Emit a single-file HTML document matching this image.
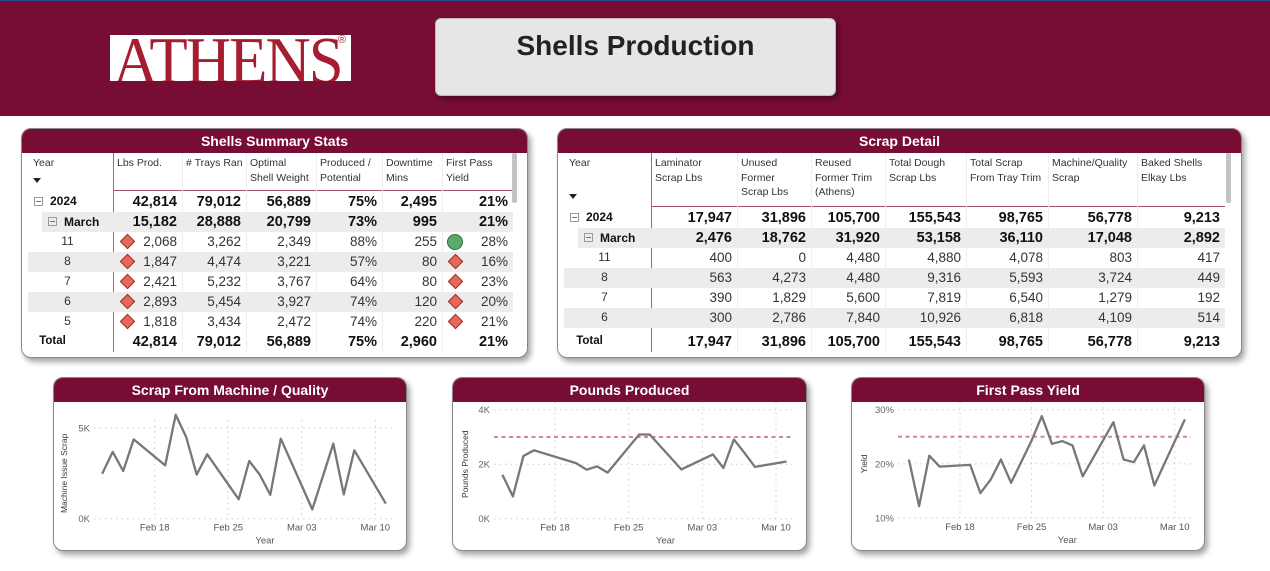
<!DOCTYPE html>
<html><head><meta charset="utf-8">
<style>
*{box-sizing:border-box;margin:0;padding:0}
body{width:1270px;height:571px;background:#fff;position:relative;overflow:hidden;font-family:"Liberation Sans",sans-serif;color:#222}
.abs{position:absolute}
.card{position:absolute;background:#fff;border:1px solid #888;border-radius:10px;box-shadow:3px 4px 6px rgba(0,0,0,.35);overflow:hidden}
.bar{position:absolute;left:0;right:0;top:0;height:24px;background:#770c35;color:#fff;font-weight:bold;font-size:14px;text-align:center;line-height:24px}
.cell{position:absolute;font-size:13.5px;text-align:right;white-space:nowrap;color:#333;line-height:20px}
.hd{position:absolute;font-size:10.5px;color:#333;line-height:14.5px}
.b{font-weight:bold;color:#111;font-size:14.5px}
.dia{position:absolute;width:11px;height:11px;background:#e8675b;border:1px solid #a52a22;transform:rotate(45deg)}
.circ{position:absolute;width:16px;height:16px;border-radius:50%;background:#5ca96d;border:1px solid #2f6e3c}
</style></head>
<body>
<div class="abs" style="left:0;top:0;width:1270px;height:116px;background:#770c35;border-top:1px solid #2a4f9a"></div>
<div class="abs" style="left:110px;top:35px;width:241px;height:46px;background:#fff;overflow:hidden">
<div style="position:absolute;left:3px;top:-13px;font-family:'Liberation Serif',serif;font-size:64px;color:#a51d2f;letter-spacing:-2px;transform:scale(0.98,1.05);transform-origin:left top">ATHENS</div>
<div style="position:absolute;left:228px;top:-1px;font-size:11px;color:#a51d2f">®</div>
</div>
<div class="abs" style="left:435px;top:18px;width:401px;height:78px;background:#e6e6e6;border:1px solid #bbb;border-radius:6px;box-shadow:3px 3px 5px rgba(0,0,0,.35)">
<div style="position:absolute;left:0;right:0;top:11px;text-align:center;font-weight:bold;font-size:28px;color:#222">Shells Production</div>
</div>

<div class="card" id="t1" style="left:21px;top:128px;width:507px;height:230px"><div class="bar">Shells Summary Stats</div></div>
<div class="card" id="t2" style="left:557px;top:128px;width:685px;height:230px"><div class="bar">Scrap Detail</div></div>

<div class="card" id="c1" style="left:53px;top:377px;width:354px;height:174px"><div class="bar">Scrap From Machine / Quality</div></div>
<div class="card" id="c2" style="left:452px;top:377px;width:355px;height:174px"><div class="bar">Pounds Produced</div></div>
<div class="card" id="c3" style="left:851px;top:377px;width:354px;height:174px"><div class="bar">First Pass Yield</div></div>

<script>
// ---------- table data ----------
const t1Headers=[["Year"],["Lbs Prod."],["# Trays Ran"],["Optimal","Shell Weight"],["Produced /","Potential"],["Downtime","Mins"],["First Pass","Yield"]];
const t1Rows=[
["2024","42,814","79,012","56,889","75%","2,495","21%"],
["March","15,182","28,888","20,799","73%","995","21%"],
["11","2,068","3,262","2,349","88%","255","28%"],
["8","1,847","4,474","3,221","57%","80","16%"],
["7","2,421","5,232","3,767","64%","80","23%"],
["6","2,893","5,454","3,927","74%","120","20%"],
["5","1,818","3,434","2,472","74%","220","21%"],
["Total","42,814","79,012","56,889","75%","2,960","21%"]];
const t1Lbs=["bad","bad","bad","bad","bad"];
const t1Fpy=["good","bad","bad","bad","bad"];
const t2Headers=[["Year"],["Laminator","Scrap Lbs"],["Unused","Former","Scrap Lbs"],["Reused","Former Trim","(Athens)"],["Total Dough","Scrap Lbs"],["Total Scrap","From Tray Trim"],["Machine/Quality","Scrap"],["Baked Shells","Elkay Lbs"]];
const t2Rows=[
["2024","17,947","31,896","105,700","155,543","98,765","56,778","9,213"],
["March","2,476","18,762","31,920","53,158","36,110","17,048","2,892"],
["11","400","0","4,480","4,880","4,078","803","417"],
["8","563","4,273","4,480","9,316","5,593","3,724","449"],
["7","390","1,829","5,600","7,819","6,540","1,279","192"],
["6","300","2,786","7,840","10,926","6,818","4,109","514"],
["Total","17,947","31,896","105,700","155,543","98,765","56,778","9,213"]];

function mk(parent,cls,style,text){const d=document.createElement('div');d.className=cls;d.style.cssText=style;if(text!=null)d.textContent=text;parent.appendChild(d);return d;}

function buildTable(id,edges,headers,rows,lineY,rowTops,hdTop,iconFn){
  const card=document.getElementById(id);
  const L=edges[0];
  headers.forEach((h,i)=>{
    const d=mk(card,'hd',`left:${edges[i]-L+(i==0?11:4)}px;top:${hdTop}px;`);
    d.innerHTML=h.join('<br>');
    
    
  });
  const arrow=mk(card,'abs',`left:11px;top:${lineY-12}px;width:0;height:0;border-left:4px solid transparent;border-right:4px solid transparent;border-top:5px solid #222`);
  
  
  const line=mk(card,'abs',`left:${edges[1]-L}px;top:${lineY}px;width:${edges[edges.length-1]-edges[1]}px;height:1px;background:#a0506e`);
  
  
  const vline=mk(card,'abs',`left:${edges[1]-L}px;top:24px;width:1px;height:${rowTops[rowTops.length-1]+20-24}px;background:#b06080`);
  
  
  for(let i=2;i<edges.length-1;i++){
    const v=mk(card,'abs',`left:${edges[i]-L}px;top:24px;width:1px;height:${rowTops[rowTops.length-1]+20-24}px;background:#eee`);
    
    
  }
  rows.forEach((r,ri)=>{
    const top=rowTops[ri];
    const bold=(ri<2||ri==rows.length-1);
    if(ri%2==1 && ri<rows.length-1){
      const bg=mk(card,'abs',`left:${ri==1?20:6}px;top:${top}px;width:${edges[edges.length-1]-L-(ri==1?20:6)}px;height:20px;background:#ececec`);
      
      
    }
    r.forEach((v,ci)=>{
      let st,cls='cell'+(bold?' b':'');
      if(ci==0){
        if(ri==0) st=`left:11px;top:${top-1}px;text-align:left;font-size:12px`;
        else if(ri==1) st=`left:22px;top:${top}px;text-align:left;font-size:12px`;
        else if(ri==rows.length-1) st=`left:0;width:${edges[1]-L-30}px;top:${top-1}px;text-align:center;font-size:11.5px`;
        else st=`left:0;width:${edges[1]-L}px;top:${top-1}px;text-align:center;font-size:12px`;
      } else st=`left:${edges[ci]-L}px;width:${edges[ci+1]-edges[ci]-5}px;top:${top}px`;
      const d=mk(card,cls,st,v);
      
      
      if(ci==0&&ri<2){
        const box=mk(card,'abs',`left:${ri==0?12:26}px;top:${top+5}px;width:9px;height:9px;border:1px solid #999`);
        
        
        mk(box,'abs','left:1px;top:3px;width:5px;height:1px;background:#777');
        d.style.left=(ri==0?28:42)+'px';
      }
    });
    if(iconFn) iconFn(card,ri,top,L);
  });
  const sb=mk(card,'abs',`right:10px;top:24px;width:5px;height:50px;background:#c4c4c4;border-radius:2px`);
  
  
}

buildTable('t1',[21,112,181,245,315,381,441,512],t1Headers,t1Rows,61,[63,83,103,123,143,163,183,203],27,(card,ri,top,L)=>{
  if(ri>=2&&ri<=6){
    const k=ri-2;
    const a=mk(card,t1Lbs[k]=='good'?'circ':'dia',`left:${t1Lbs[k]=='good'?97:100}px;top:${top+4}px`);
    
    
    const g=t1Fpy[k]=='good';
    const b=mk(card,g?'circ':'dia',g?`left:425px;top:${top+2}px`:`left:428px;top:${top+4}px`);
    
    
  }
});
buildTable('t2',[557,650,736,810,884,965,1047,1136,1224],t2Headers,t2Rows,77,[79,99,119,139,159,179,203],27,null);

// ---------- chart data ----------
const scrapDates=["Feb 13","Feb 14","Feb 15","Feb 16","Feb 19","Feb 20","Feb 21","Feb 22","Feb 23","Feb 26","Feb 27","Feb 28","Feb 29","Mar 01","Mar 04","Mar 06","Mar 07","Mar 08","Mar 11"];
const scrapValues=[2480,3680,2630,4370,2940,5730,4500,2430,3550,1070,3180,2430,1320,4410,510,4140,1340,3770,830];
const lbsDates=["Feb 13","Feb 14","Feb 15","Feb 16","Feb 20","Feb 21","Feb 22","Feb 23","Feb 26","Feb 27","Mar 01","Mar 04","Mar 05","Mar 06","Mar 07","Mar 08","Mar 11"];
const lbsValues=[1610,820,2300,2510,2040,1800,1920,1690,3090,3090,1810,2360,1860,2910,2420,1900,2100];
const lbsTarget=3000;
const fpyDates=["Feb 13","Feb 14","Feb 15","Feb 16","Feb 19","Feb 20","Feb 21","Feb 22","Feb 23","Feb 25","Feb 26","Feb 27","Feb 28","Feb 29","Mar 01","Mar 04","Mar 05","Mar 06","Mar 07","Mar 08","Mar 11"];
const fpyValues=[20.8,12.2,21.5,19.5,19.8,14.6,17.1,20.8,16.5,24.3,28.8,23.7,24.2,23.4,17.7,27.7,20.8,20.3,23.4,16.0,28.2];
const fpyTarget=25;
const xTickLabels=["Feb 18","Feb 25","Mar 03","Mar 10"];
const scrapTicks=[0,5000],scrapTickLabels=["0K","5K"];
const lbsTicks=[0,2000,4000],lbsTickLabels=["0K","2K","4K"];
const fpyTicks=[10,20,30],fpyTickLabels=["10%","20%","30%"];

function dayIdx(s){const [m,d]=s.split(' ');return (m=="Feb"?0:29)+parseInt(d,10)-13;}
const NS="http://www.w3.org/2000/svg";
function el(p,tag,attrs){const e=document.createElementNS(NS,tag);for(const k in attrs)e.setAttribute(k,attrs[k]);p.appendChild(e);return e;}

function drawChart(id,cfg){
  const card=document.getElementById(id);
  const svg=el(card,'svg',{width:cfg.w,height:174,style:'position:absolute;left:0;top:0'});
  
  
  const x=d=>cfg.x0+(dayIdx(d)-5)*(cfg.x1-cfg.x0)/21;
  const y=v=>cfg.yb+(v-cfg.ymin)*(cfg.yt-cfg.yb)/(cfg.ymax-cfg.ymin);
  cfg.ticks.forEach((t,i)=>{
    const g=el(svg,'line',{x1:cfg.gx0,x2:cfg.gx1,y1:y(t),y2:y(t),stroke:'#ccc','stroke-dasharray':'1.5 4','stroke-width':1});
    
    
    const tl=el(svg,'text',{x:cfg.gx0-4,y:y(t)+3.5,'text-anchor':'end','font-size':9.5,fill:'#666','font-family':'Liberation Sans'});
    tl.textContent=cfg.labels[i];
    
    
  });
  xTickLabels.forEach(s=>{
    const xx=x(s);
    const g=el(svg,'line',{x1:xx,x2:xx,y1:cfg.yt-8,y2:cfg.yb,stroke:'#ccc','stroke-dasharray':'1.5 4'});
    
    
    const tl=el(svg,'text',{x:xx,y:cfg.yb+12,'text-anchor':'middle','font-size':9.5,fill:'#555','font-family':'Liberation Sans'});
    tl.textContent=s;
    
    
  });
  const xt=el(svg,'text',{x:(cfg.x0+cfg.x1)/2,y:cfg.yb+25,'text-anchor':'middle','font-size':9.5,fill:'#555','font-family':'Liberation Sans'});
  xt.textContent='Year';
  
  
  const yt=el(svg,'text',{x:0,y:0,'text-anchor':'middle','font-size':8.5,fill:'#333','font-family':'Liberation Sans',transform:`translate(${cfg.ytx},${(cfg.yt+cfg.yb)/2}) rotate(-90)`});
  yt.textContent=cfg.ytitle;
  
  
  if(cfg.target!=null){
    const tl=el(svg,'line',{x1:cfg.tx0,x2:cfg.gx1,y1:y(cfg.target),y2:y(cfg.target),stroke:'#d08a8c','stroke-width':2,'stroke-dasharray':'4 3.5'});
    
    
  }
  const pts=cfg.dates.map((d,i)=>x(d).toFixed(1)+','+y(cfg.values[i]).toFixed(1)).join(' ');
  const pl=el(svg,'polyline',{points:pts,fill:'none',stroke:'#777','stroke-width':2.3,'stroke-linejoin':'round'});
  
  
}
drawChart('c1',{w:354,dates:scrapDates,values:scrapValues,ticks:scrapTicks,labels:scrapTickLabels,ymin:0,ymax:5000,
  yb:517.7-377,yt:427-377,x0:153.7-53,x1:374.3-53,gx0:93-53,gx1:392-53,ytx:13,ytitle:'Machine Issue Scrap'});
drawChart('c2',{w:355,dates:lbsDates,values:lbsValues,ticks:lbsTicks,labels:lbsTickLabels,ymin:0,ymax:4000,target:lbsTarget,
  yb:517.7-377,yt:408.7-377,x0:554-452,x1:775-452,gx0:493-452,gx1:792-452,tx0:493-452,ytx:15,ytitle:'Pounds Produced'});
drawChart('c3',{w:354,dates:fpyDates,values:fpyValues,ticks:fpyTicks,labels:fpyTickLabels,ymin:10,ymax:30,target:fpyTarget,
  yb:517-377,yt:408.7-377,x0:959-851,x1:1173.7-851,gx0:897-851,gx1:1190-851,tx0:897-851,ytx:15,ytitle:'Yield'});
</script>
</body></html>
